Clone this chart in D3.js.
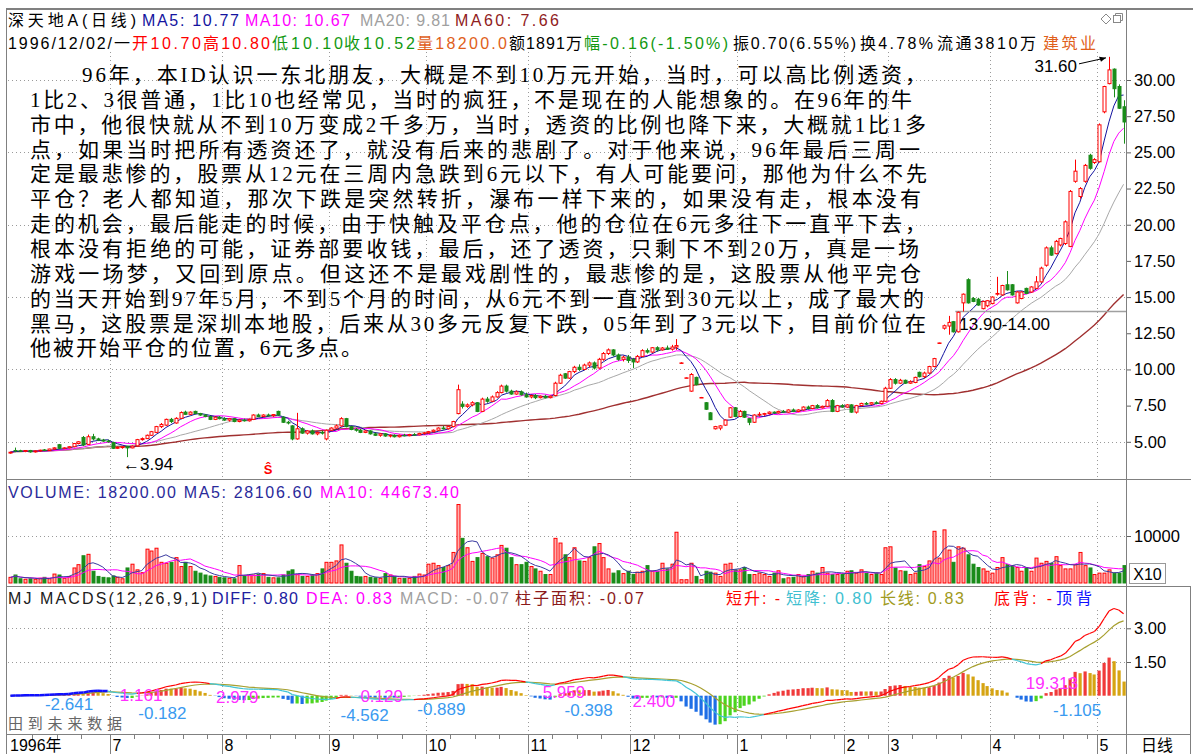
<!DOCTYPE html>
<html><head><meta charset="utf-8">
<script src="https://cdn.jsdelivr.net/npm/d3@7"></script>
<style>
body{margin:0;background:#fff}
svg{display:block}
text{font-family:"Liberation Sans","Noto Sans CJK SC",sans-serif}
</style></head>
<body><svg id="c" width="1193" height="754"></svg>
<script>
// ---------- DATA ----------
const monthLabels = ["1996年","7","8","9","10","11","12","1","2","3","4","5"];
const monthDays   = [21,23,22,20,21,21,22,22,9,21,22,6];

// daily [open, high, low, close]
const jun96=[[4.22,4.30,4.18,4.28],[4.40,4.60,4.28,4.38],[4.38,4.45,4.30,4.34],[4.34,4.42,4.28,4.40],[4.40,4.44,4.25,4.30],[4.30,4.40,4.26,4.37],[4.37,4.45,4.32,4.42],[4.44,4.50,4.36,4.40],[4.40,4.52,4.38,4.50],[4.50,4.62,4.46,4.58],[4.80,4.85,4.50,4.55],[4.55,4.62,4.50,4.58],[4.58,4.70,4.55,4.66],[4.66,4.92,4.62,4.88],[4.88,5.05,4.82,5.00],[5.30,5.40,4.70,4.78],[4.82,5.50,4.80,5.35],[5.35,5.55,5.10,5.20],[5.20,5.28,5.05,5.12],[5.12,5.20,5.00,5.05],[5.05,5.15,4.95,5.00]];
const jul96=[[4.95,5.00,4.50,4.55],[4.55,4.68,4.50,4.62],[4.60,4.70,4.52,4.66],[4.66,4.72,3.94,4.58],[4.58,4.75,4.55,4.70],[4.72,5.20,4.70,5.15],[5.15,5.30,5.08,5.22],[5.22,5.50,5.20,5.45],[5.45,5.75,5.40,5.70],[5.65,6.10,5.60,6.05],[6.05,6.30,5.95,6.20],[6.15,6.60,6.10,6.55],[6.55,6.65,6.30,6.40],[6.30,6.70,6.25,6.62],[6.62,7.10,6.58,7.02],[7.05,7.15,6.85,6.90],[6.90,7.10,6.85,7.05],[7.10,7.15,6.90,6.95],[6.95,7.00,6.80,6.85],[6.85,6.90,6.70,6.75],[6.75,6.80,6.50,6.55],[6.55,6.75,6.50,6.70],[6.70,6.78,6.55,6.60]];
const aug96=[[6.60,6.70,6.45,6.50],[6.50,6.65,6.40,6.60],[6.60,6.65,6.35,6.40],[6.40,6.55,6.35,6.50],[6.50,6.60,6.40,6.45],[6.45,6.60,6.40,6.55],[6.55,6.90,6.50,6.85],[6.85,6.95,6.70,6.75],[6.75,6.90,6.70,6.85],[6.85,6.95,6.75,6.80],[6.80,6.92,6.72,6.88],[7.10,7.15,6.80,6.85],[6.70,6.75,6.30,6.35],[6.35,6.45,6.20,6.30],[6.10,6.15,5.10,5.20],[5.20,7.00,5.15,5.90],[5.90,6.00,5.55,5.60],[5.60,5.80,5.50,5.75],[5.75,5.85,5.50,5.55],[5.55,5.70,5.45,5.65],[5.65,5.75,5.50,5.60],[5.20,5.85,5.10,5.80]];
const sep96=[[5.80,6.00,5.75,5.95],[5.95,6.20,5.90,6.10],[6.10,6.70,6.05,6.60],[6.60,6.65,6.00,6.05],[6.05,6.10,5.80,5.85],[5.85,5.95,5.70,5.80],[5.80,5.90,5.60,5.65],[5.65,5.80,5.60,5.75],[5.75,5.80,5.50,5.55],[5.55,5.65,5.40,5.45],[5.45,5.60,5.35,5.55],[5.55,5.60,5.35,5.40],[5.40,5.50,5.30,5.45],[5.45,5.52,5.30,5.35],[5.35,5.50,5.30,5.45],[5.45,5.55,5.38,5.42],[5.42,5.55,5.38,5.50],[5.50,5.60,5.42,5.48],[5.48,5.62,5.45,5.58],[5.58,5.68,5.50,5.62]];
const oct96=[[5.62,5.75,5.55,5.70],[5.70,5.85,5.65,5.80],[5.80,6.00,5.75,5.95],[5.95,6.10,5.85,5.90],[5.90,6.10,5.85,6.05],[6.05,6.45,6.00,6.40],[6.95,8.95,6.90,8.60],[7.60,7.80,7.30,7.45],[7.45,7.65,7.35,7.55],[7.55,7.80,7.45,7.70],[7.70,7.75,7.05,7.10],[7.10,8.05,7.05,7.95],[7.95,8.10,7.70,7.80],[7.80,8.20,7.75,8.10],[8.10,8.50,8.05,8.40],[8.40,8.95,8.35,8.85],[8.85,8.95,8.40,8.50],[8.50,8.60,8.25,8.30],[8.30,8.55,8.25,8.45],[8.45,8.55,8.20,8.25],[8.25,8.40,8.05,8.10]];
const nov96=[[8.10,8.25,8.00,8.20],[8.20,8.30,7.95,8.05],[8.05,8.20,8.00,8.15],[8.15,8.25,8.00,8.05],[8.05,8.20,8.00,8.15],[8.20,9.15,8.15,9.05],[9.05,9.70,9.00,9.60],[9.70,9.75,9.35,9.40],[9.40,9.90,9.35,9.85],[9.85,10.25,9.75,10.15],[10.15,10.35,9.90,10.00],[10.00,10.40,9.95,10.30],[10.30,10.55,10.15,10.45],[10.45,10.55,10.00,10.10],[10.10,10.80,10.05,10.70],[10.70,11.20,10.60,11.10],[11.10,11.45,11.00,11.35],[11.35,11.40,10.90,11.00],[11.00,11.10,10.60,10.70],[10.70,10.95,10.55,10.85],[10.85,11.00,10.45,10.62]];
const dec96=[[10.70,10.80,10.10,10.52],[10.52,11.00,10.45,10.90],[10.90,11.40,10.85,11.30],[11.30,11.45,11.10,11.20],[11.20,11.55,11.15,11.50],[11.50,11.60,11.25,11.35],[11.35,11.55,11.30,11.48],[11.48,11.65,11.35,11.40],[11.40,11.70,11.30,11.55],[11.55,12.10,11.35,11.65],[10.45,10.50,10.40,10.45],[9.42,9.45,9.40,9.42],[8.50,9.75,8.45,9.65],[9.45,9.50,8.90,8.95],[8.06,8.10,8.05,8.06],[7.70,7.75,7.20,7.25],[7.00,7.05,6.50,6.53],[5.90,6.10,5.85,6.05],[5.95,6.15,5.80,6.10],[6.15,6.55,6.10,6.50],[6.70,7.40,6.65,7.35],[7.35,7.40,6.70,6.75]];
const jan97=[[6.75,7.20,6.70,7.10],[7.10,7.15,6.65,6.70],[6.60,6.65,6.15,6.35],[6.35,6.90,6.30,6.85],[6.85,7.05,6.75,6.90],[6.90,7.00,6.80,6.95],[6.95,7.10,6.90,7.05],[7.05,7.10,6.95,7.00],[7.00,7.15,6.95,7.10],[7.10,7.20,7.00,7.05],[7.05,7.25,7.00,7.20],[7.20,7.30,7.05,7.10],[7.10,7.25,7.05,7.20],[7.20,7.45,7.15,7.40],[7.40,7.50,7.25,7.30],[7.30,7.55,7.25,7.50],[7.50,7.60,7.30,7.35],[7.35,7.50,7.30,7.45],[7.45,7.95,7.40,7.85],[7.85,7.95,7.05,7.10],[7.10,7.55,7.05,7.50],[7.50,7.60,7.35,7.40]];
const feb97=[[7.40,7.60,7.35,7.55],[7.55,7.60,7.00,7.05],[7.05,7.55,6.95,7.50],[7.50,7.70,7.45,7.65],[7.65,7.75,7.55,7.60],[7.60,7.75,7.55,7.70],[7.70,7.80,7.60,7.65],[7.65,7.85,7.60,7.80],[7.80,8.80,7.75,8.70]];
const mar97=[[8.70,9.40,8.65,9.30],[9.30,9.40,8.95,9.05],[9.05,9.35,9.00,9.25],[9.25,9.30,9.00,9.05],[9.05,9.25,9.00,9.15],[9.10,9.50,9.05,9.45],[9.80,9.85,9.45,9.50],[9.50,9.85,9.40,9.75],[9.75,10.25,9.70,10.20],[10.20,10.80,10.15,10.75],[11.83,11.85,11.80,11.83],[12.85,13.10,12.75,13.02],[13.00,13.70,12.40,13.25],[13.30,13.35,12.55,12.60],[12.60,14.00,12.55,13.95],[14.60,15.25,14.00,15.20],[16.20,16.30,14.55,14.60],[14.90,15.00,14.65,14.70],[14.85,14.95,14.40,14.45],[14.20,14.75,14.15,14.70],[14.40,14.80,14.30,14.75]];
const apr97=[[14.55,15.05,14.50,15.00],[15.20,16.40,15.10,15.25],[15.15,15.85,15.10,15.80],[15.85,16.80,15.45,15.50],[15.85,15.90,15.10,15.15],[14.60,15.40,14.55,15.35],[14.90,15.40,14.85,15.35],[15.60,15.65,15.20,15.25],[15.35,15.75,15.30,15.70],[15.60,16.45,15.55,16.05],[16.05,17.10,16.00,17.00],[17.20,18.50,17.10,18.40],[18.40,18.55,17.85,17.90],[18.00,18.95,17.95,18.85],[18.60,19.10,18.50,19.05],[18.70,20.30,18.60,20.20],[18.50,22.40,18.45,22.30],[23.00,24.50,22.90,23.70],[21.95,22.60,21.80,22.50],[23.00,24.20,22.90,24.10],[24.80,24.90,23.80,23.90],[24.30,24.60,24.20,24.50]];
const may97=[[24.35,27.00,24.30,26.90],[27.80,29.60,27.70,29.55],[29.75,31.60,29.70,30.70],[30.75,30.80,28.80,29.40],[29.55,29.70,28.00,28.05],[28.15,28.60,25.60,27.10]];

// daily volume (lots)
const volJun96=[12000,17000,9000,8000,9000,8000,10000,12000,9000,19000,17000,10000,14000,32000,39000,58000,61000,25000,14000,12000,11000];
const volJul96=[15000,12000,9000,32000,40000,28000,22000,72000,68000,74000,44000,42000,44000,54000,35000,44000,35000,25000,21000,17000,15000,14000,12000];
const volAug96=[11000,10000,9000,37000,16000,17000,17000,19000,20000,12000,11000,11000,17000,25000,28000,18000,14000,14000,17000,20000,30000,44000];
const volSep96=[44000,47000,81000,42000,25000,14000,13000,14000,12000,11000,10000,20000,17000,14000,10000,10000,10000,14000,19000,17000];
const volOct96=[40000,42000,37000,33000,37000,65000,167000,95000,75000,46000,54000,63000,56000,53000,60000,80000,74000,54000,39000,39000,44000];
const volNov96=[35000,30000,25000,18000,18000,95000,85000,60000,54000,75000,47000,46000,54000,77000,84000,54000,30000,21000,26000,20000,25000];
const volDec96=[18200,23000,25000,37000,25000,25000,42000,30000,40000,108000,7000,7000,42000,14000,7000,25000,23000,21000,14000,40000,42000,28000];
const volJan97=[28000,33000,18000,18000,21000,18000,14000,21000,26000,9000,11000,12000,18000,14000,18000,25000,21000,33000,21000,18000,18000,18000];
const volFeb97=[25000,26000,21000,28000,21000,18000,21000,18000,75000];
const volMar97=[77000,32000,26000,25000,18000,21000,39000,35000,47000,110000,53000,113000,70000,44000,77000,74000,60000,40000,33000,30000,25000];
const volApr97=[21000,33000,54000,39000,37000,33000,25000,32000,25000,53000,42000,46000,42000,56000,37000,30000,30000,39000,65000,37000,32000,18000];
const volMay97=[21000,21000,28000,21000,21000,37000];

const priceTicks=[5,7.5,10,12.5,15,17.5,20,22.5,25,27.5,30];
const priceGrid=[5,10,15,20,25,30];
const volTicks=[100000];          // shown as 10000 (x10)
const volTickLabels=["10000"];
const macdTicks=[1.5,3];

// MACD area labels: day position, value level, text, colour
const areaLabels=[
 {i:7.6,v:-0.40,t:"-2.641",c:"#3a9af0"},{i:23,v:0.0,t:"1.161",c:"#ff30ff"},
 {i:26.8,v:-0.80,t:"-0.182",c:"#3a9af0"},{i:42.8,v:-0.10,t:"2.979",c:"#ff30ff"},
 {i:68.4,v:-0.90,t:"-4.562",c:"#3a9af0"},{i:72.5,v:-0.05,t:"0.129",c:"#ff30ff"},
 {i:84.2,v:-0.62,t:"-0.889",c:"#3a9af0"},{i:110,v:0.16,t:"5.959",c:"#ff30ff"},
 {i:114.5,v:-0.68,t:"-0.398",c:"#3a9af0"},{i:128.5,v:-0.28,t:"2.400",c:"#ff30ff"},
 {i:209.4,v:0.55,t:"19.313",c:"#ff30ff"},{i:215,v:-0.67,t:"-1.105",c:"#3a9af0"}
];
const lowMark={i:24,p:3.94,t:"←3.94"};
const highMark={i:226,p:31.60,t:"31.60"};
const rangeMark={i:195,p:14.00,t:"13.90-14.00"};
const signalMark={i:53,t:"Ŝ"};

const storyLines=[
"96年，本ID认识一东北朋友，大概是不到10万元开始，当时，可以高比例透资，",
"1比2、3很普通，1比10也经常见，当时的疯狂，不是现在的人能想象的。在96年的牛",
"市中，他很快就从不到10万变成2千多万，当时，透资的比例也降下来，大概就1比1多",
"点，如果当时把所有透资还了，就没有后来的悲剧了。对于他来说，96年最后三周一",
"定是最悲惨的，股票从12元在三周内急跌到6元以下，有人可能要问，那他为什么不先",
"平仓？老人都知道，那次下跌是突然转折，瀑布一样下来的，如果没有走，根本没有",
"走的机会，最后能走的时候，由于快触及平仓点，他的仓位在6元多往下一直平下去，",
"根本没有拒绝的可能，证券部要收钱，最后，还了透资，只剩下不到20万，真是一场",
"游戏一场梦，又回到原点。但这还不是最戏剧性的，最悲惨的是，这股票从他平完仓",
"的当天开始到97年5月，不到5个月的时间，从6元不到一直涨到30元以上，成了最大的",
"黑马，这股票是深圳本地股，后来从30多元反复下跌，05年到了3元以下，目前价位在",
"他被开始平仓的位置，6元多点。"
];

// ---------- BUILD ----------
const ohlc=[].concat(jun96,jul96,aug96,sep96,oct96,nov96,dec96,jan97,feb97,mar97,apr97,may97);
const vols=[].concat(volJun96,volJul96,volAug96,volSep96,volOct96,volNov96,volDec96,volJan97,volFeb97,volMar97,volApr97,volMay97);
const data=ohlc.map((r,i)=>({i,o:r[0],h:r[1],l:r[2],c:r[3],v:vols[i]}));
const N=data.length;
const closes=data.map(d=>d.c);
function ma(arr,n){return arr.map((_,i)=>d3.mean(arr.slice(Math.max(0,i-n+1),i+1)));}
function ema(arr,n){const o=[];arr.forEach((v,i)=>o.push(i?(2*v+(n-1)*o[i-1])/(n+1):v));return o;}
const ma5=ma(closes,5),ma10=ma(closes,10),ma20=ma(closes,20),ma60=ma(closes,60);
const vma5=ma(vols,5),vma10=ma(vols,10);
const e12=ema(closes,12),e26=ema(closes,26);
const diff=e12.map((v,i)=>v-e26[i]);
const dea=ema(diff,9);
const hist=diff.map((v,i)=>2*(v-dea[i]));

const svg=d3.select("#c");
const L=8,R=1126;
const x=d3.scaleLinear().domain([0,N]).range([L,R]);
const xc=i=>x(i+0.5);
const yP=d3.scaleLinear().domain([5,30]).range([441.8,80]);
const yV=d3.scaleLinear().domain([0,100000]).range([583,536]);
const yM=d3.scaleLinear().domain([0,1.5]).range([695.7,662]);
const UP="#ff0000",DN="#1a8c1a",GRID="#9a9a9a",FRAME="#808080";

const defs=svg.append("defs");
[["cm",6,9,R-6,470],["cv",6,479,R-6,107],["cd",6,604,R-6,130]].forEach(([id,x0,y0,w,h])=>{
  defs.append("clipPath").attr("id",id).append("rect").attr("x",x0).attr("y",y0).attr("width",w).attr("height",h);
});

// month starts
const mStart=[];let acc=0;monthDays.forEach(d=>{mStart.push(acc);acc+=d;});

// ---------- GRID ----------
const grid=svg.append("g").attr("stroke",GRID).attr("stroke-dasharray","1,3").attr("stroke-width",1);
priceGrid.forEach(p=>grid.append("line").attr("x1",L).attr("x2",R).attr("y1",Math.round(yP(p))+0.5).attr("y2",Math.round(yP(p))+0.5));
volTicks.forEach(v=>grid.append("line").attr("x1",L).attr("x2",R).attr("y1",Math.round(yV(v))+0.5).attr("y2",Math.round(yV(v))+0.5));
macdTicks.forEach(v=>grid.append("line").attr("x1",L).attr("x2",R).attr("y1",Math.round(yM(v))+0.5).attr("y2",Math.round(yM(v))+0.5));
mStart.slice(1).forEach(k=>{
  const xx=Math.round(x(k))+0.5;
  [[52,478],[502,585],[610,733]].forEach(([a,b])=>grid.append("line").attr("x1",xx).attr("x2",xx).attr("y1",a).attr("y2",b));
});

// ---------- STORY TEXT ----------
const storyEnd=[926,912,926,920,927,921,926,919,921,924,926,null];
const st=svg.append("g").attr("font-size",21).attr("fill","#000");
storyLines.forEach((s,k)=>{
  const x0=k===0?82:30;
  const t=st.append("text").attr("x",x0).attr("y",75+k*24.85).attr("dominant-baseline","central")
    .style("font-family",'"Liberation Serif","Noto Sans CJK SC",serif').text(s);
  if(storyEnd[k]) t.attr("textLength",storyEnd[k]-x0).attr("lengthAdjust","spacing");
  else t.attr("textLength",332).attr("lengthAdjust","spacing");
});

// ---------- MAIN: MAs + candles ----------
const gm=svg.append("g").attr("clip-path","url(#cm)");
const lineP=d3.line().x((d,i)=>xc(i)).y(d=>yP(d));
[[ma60,"#a03030",1.4],[ma20,"#a8a8a8",1],[ma10,"#ff00ff",1],[ma5,"#1414a0",1]].forEach(([a,c,w])=>{
  gm.append("path").attr("d",lineP(a)).attr("fill","none").attr("stroke",c).attr("stroke-width",w);
});
// 14.00 reference line
gm.append("line").attr("x1",xc(rangeMark.i)-3).attr("x2",R).attr("y1",yP(rangeMark.p)).attr("y2",yP(rangeMark.p))
  .attr("stroke","#a0a0a0").attr("stroke-width",1.5);
const cx=d=>Math.round(xc(d.i))+0.5;
gm.selectAll("line.w").data(data).join("line").attr("class","w")
  .attr("x1",cx).attr("x2",cx).attr("y1",d=>yP(d.h)).attr("y2",d=>yP(d.l))
  .attr("stroke",d=>d.c>=d.o?UP:DN).attr("stroke-width",1);
gm.selectAll("rect.b").data(data).join("rect").attr("class","b")
  .attr("x",d=>cx(d)-1.5).attr("width",3)
  .attr("y",d=>yP(Math.max(d.o,d.c))).attr("height",d=>Math.max(0.5,Math.abs(yP(d.o)-yP(d.c))))
  .attr("fill",d=>d.c>=d.o?"#fff":DN).attr("stroke",d=>d.c>=d.o?UP:DN).attr("stroke-width",1);

// annotations
svg.append("text").attr("x",xc(lowMark.i)-4).attr("y",yP(lowMark.p)+7).attr("dominant-baseline","central")
  .attr("font-size",17).attr("fill","#000").text(lowMark.t);
svg.append("text").attr("x",xc(highMark.i)-32).attr("y",yP(highMark.p)+10).attr("dominant-baseline","central")
  .attr("text-anchor","end").attr("font-size",17).attr("fill","#000").text(highMark.t);
svg.append("line").attr("x1",xc(highMark.i)-30).attr("y1",yP(highMark.p)+7).attr("x2",xc(highMark.i)-3).attr("y2",yP(highMark.p)+1)
  .attr("stroke","#000").attr("stroke-width",1);
svg.append("path").attr("d",`M${xc(highMark.i)-3},${yP(highMark.p)+1} l-7,-1 l2,5 z`).attr("fill","#000");
svg.append("text").attr("x",xc(rangeMark.i)+1).attr("y",yP(rangeMark.p)+13).attr("dominant-baseline","central")
  .attr("font-size",17).attr("fill","#000").text(rangeMark.t);
svg.append("text").attr("x",xc(signalMark.i)).attr("y",469).attr("text-anchor","middle").attr("dominant-baseline","central")
  .attr("font-size",13).attr("font-weight","bold").attr("fill","#ff0000").text(signalMark.t);

// ---------- VOLUME ----------
const gv=svg.append("g").attr("clip-path","url(#cv)");
gv.selectAll("rect").data(data).join("rect")
  .attr("x",d=>cx(d)-1.5).attr("width",3)
  .attr("y",d=>yV(d.v)).attr("height",d=>yV(0)-yV(d.v))
  .attr("fill",d=>d.c>=d.o?"#ffb0b0":DN).attr("stroke",d=>d.c>=d.o?UP:DN).attr("stroke-width",1);
const lineV=d3.line().x((d,i)=>xc(i)).y(d=>yV(d));
gv.append("path").attr("d",lineV(vma10)).attr("fill","none").attr("stroke","#ff00ff").attr("stroke-width",1);
gv.append("path").attr("d",lineV(vma5)).attr("fill","none").attr("stroke","#3a3aa0").attr("stroke-width",1);

// ---------- MACD ----------
const gd=svg.append("g").attr("clip-path","url(#cd)");
gd.selectAll("rect").data(hist).join("rect")
  .attr("x",(d,i)=>Math.round(xc(i))-1.5).attr("width",3.2)
  .attr("y",d=>Math.min(yM(d),yM(0))).attr("height",d=>Math.abs(yM(d)-yM(0)))
  .attr("fill",(d,i)=>{const p=i?hist[i-1]:0;
     if(d>=0) return d>=p?"#f03a3a":"#d6a412";
     return d<=p?"#1e6ee6":"#4cd41e";});
gd.append("path").attr("d",d3.line().x((d,i)=>xc(i)).y(d=>yM(d))(dea)).attr("fill","none").attr("stroke","#a8a030").attr("stroke-width",1.2);
for(let i=1;i<N;i++){
  const col=i<21?"#1010ff":(diff[i]>=dea[i]?"#ff0000":"#40c4d4");
  gd.append("line").attr("x1",xc(i-1)).attr("y1",yM(diff[i-1])).attr("x2",xc(i)).attr("y2",yM(diff[i]))
    .attr("stroke",col).attr("stroke-width",i<21?2.5:1.2);
}
areaLabels.forEach(a=>{
  svg.append("text").attr("x",x(a.i)).attr("y",yM(a.v)).attr("dominant-baseline","central")
    .attr("font-size",17).attr("fill",a.c).text(a.t);
});
svg.append("text").attr("x",8).attr("y",723).attr("dominant-baseline","central").attr("font-size",15)
  .attr("fill","#666").attr("textLength",114).attr("lengthAdjust","spacing").text("田到未来数据");

// ---------- AXES ----------
const axP=svg.append("g").attr("transform",`translate(${R},0)`)
  .call(d3.axisRight(yP).tickValues(priceTicks).tickFormat(d3.format(".2f")).tickSize(5).tickPadding(3));
const axV=svg.append("g").attr("transform",`translate(${R},0)`)
  .call(d3.axisRight(yV).tickValues(volTicks).tickFormat((d,k)=>volTickLabels[k]).tickSize(5).tickPadding(3));
const axM=svg.append("g").attr("transform",`translate(${R},0)`)
  .call(d3.axisRight(yM).tickValues(macdTicks).tickFormat(d3.format(".2f")).tickSize(5).tickPadding(3));
[axP,axV,axM].forEach(a=>{a.select(".domain").remove();
  a.selectAll("text").attr("font-size",16.5).attr("fill","#000").style("font-family",'"Liberation Sans",sans-serif');
  a.selectAll("line").attr("stroke","#606060");});

// date axis
const gx=svg.append("g");
mStart.forEach((k,j)=>{
  const xx=Math.round(x(k))+0.5;
  if(j>0) gx.append("line").attr("x1",xx).attr("x2",xx).attr("y1",734).attr("y2",754).attr("stroke",FRAME);
  gx.append("text").attr("x",j===0?10:xx+2).attr("y",745).attr("dominant-baseline","central")
    .attr("font-size",16).attr("fill","#000").text(monthLabels[j]);
  for(let t=k+5;t<k+monthDays[j]-1;t+=5){
    const tx=Math.round(x(t))+0.5;
    gx.append("line").attr("x1",tx).attr("x2",tx).attr("y1",734).attr("y2",739).attr("stroke",FRAME);
  }
});

// ---------- FRAME ----------
const fr=svg.append("g").attr("stroke",FRAME).attr("fill","none");
fr.append("line").attr("x1",6).attr("x2",1193).attr("y1",9).attr("y2",9).attr("stroke-width",2);
fr.append("line").attr("x1",6.5).attr("x2",6.5).attr("y1",9).attr("y2",754);
fr.append("line").attr("x1",R+0.5).attr("x2",R+0.5).attr("y1",9).attr("y2",754);
[479.5,586.5,734.5].forEach(y=>fr.append("line").attr("x1",6).attr("x2",1191).attr("y1",y).attr("y2",y));
fr.append("line").attr("x1",1190.5).attr("x2",1190.5).attr("y1",586).attr("y2",754);
fr.append("rect").attr("x",1129.5).attr("y",563.5).attr("width",36).attr("height",20).attr("stroke","#999");
svg.append("text").attr("x",1147.5).attr("y",574).attr("text-anchor","middle").attr("dominant-baseline","central")
  .attr("font-size",16).attr("fill","#000").text("X10");
svg.append("text").attr("x",1157).attr("y",745).attr("text-anchor","middle").attr("dominant-baseline","central")
  .attr("font-size",16).attr("fill","#000").text("日线");
// window icons
fr.append("path").attr("d","M1101,19 l5,-5 l5,5 l-5,5 z").attr("stroke","#888");
fr.append("rect").attr("x",1113.5).attr("y",15.5).attr("width",7).attr("height",7).attr("stroke","#888");
fr.append("path").attr("d","M1115.5,15.5 v-2 h7 v7 h-2").attr("stroke","#888");

// ---------- HEADERS ----------
function hdr(items,y){
  items.forEach(([t,x0,len,c])=>{
    svg.append("text").attr("x",x0).attr("y",y).attr("dominant-baseline","central").attr("font-size",16)
      .attr("fill",c).attr("textLength",len).attr("lengthAdjust","spacing").text(t);
  });
}
hdr([["深天地A(日线)",8,128,"#000"],["MA5: 10.77",142,97,"#1414a0"],["MA10: 10.67",245,105,"#ff00ff"],
     ["MA20: 9.81",360,90,"#a0a0a0"],["MA60: 7.66",455,104,"#902020"]],20);
hdr([["1996/12/02/一",8,122,"#000"],["开10.70",132,69,"#ff0000"],["高10.80",203,67,"#ff0000"],
     ["低10.10",272,71,"#119911"],["收10.52",344,71,"#119911"],["量18200.0",417,90,"#e0601a"],
     ["额1891万",509,73,"#000"],["幅-0.16(-1.50%)",584,144,"#119911"],["振0.70(6.55%)",733,123,"#000"],
     ["换4.78%",860,73,"#000"],["流通3810万",937,99,"#000"],["建筑业",1043,53,"#e0601a"]],43);
hdr([["VOLUME: 18200.00 MA5: 28106.60",8,304,"#2a2a9a"],["MA10: 44673.40",320,139,"#ff00ff"]],492);
hdr([["MJ  MACDS(12,26,9,1)",8,199,"#202020"],["DIFF: 0.80",212,86,"#2020a0"],["DEA: 0.83",306,86,"#ff00ff"],
     ["MACD: -0.07",400,109,"#a0a0a0"],["柱子面积: -0.07",515,129,"#8b1a1a"],["短升: -",726,54,"#ff0000"],
     ["短降: 0.80",786,86,"#40c0d0"],["长线: 0.83",880,84,"#a09a20"],["底背: -",994,58,"#ff0000"],["顶背",1056,36,"#1010ff"]],598);
</script>
</body></html>
